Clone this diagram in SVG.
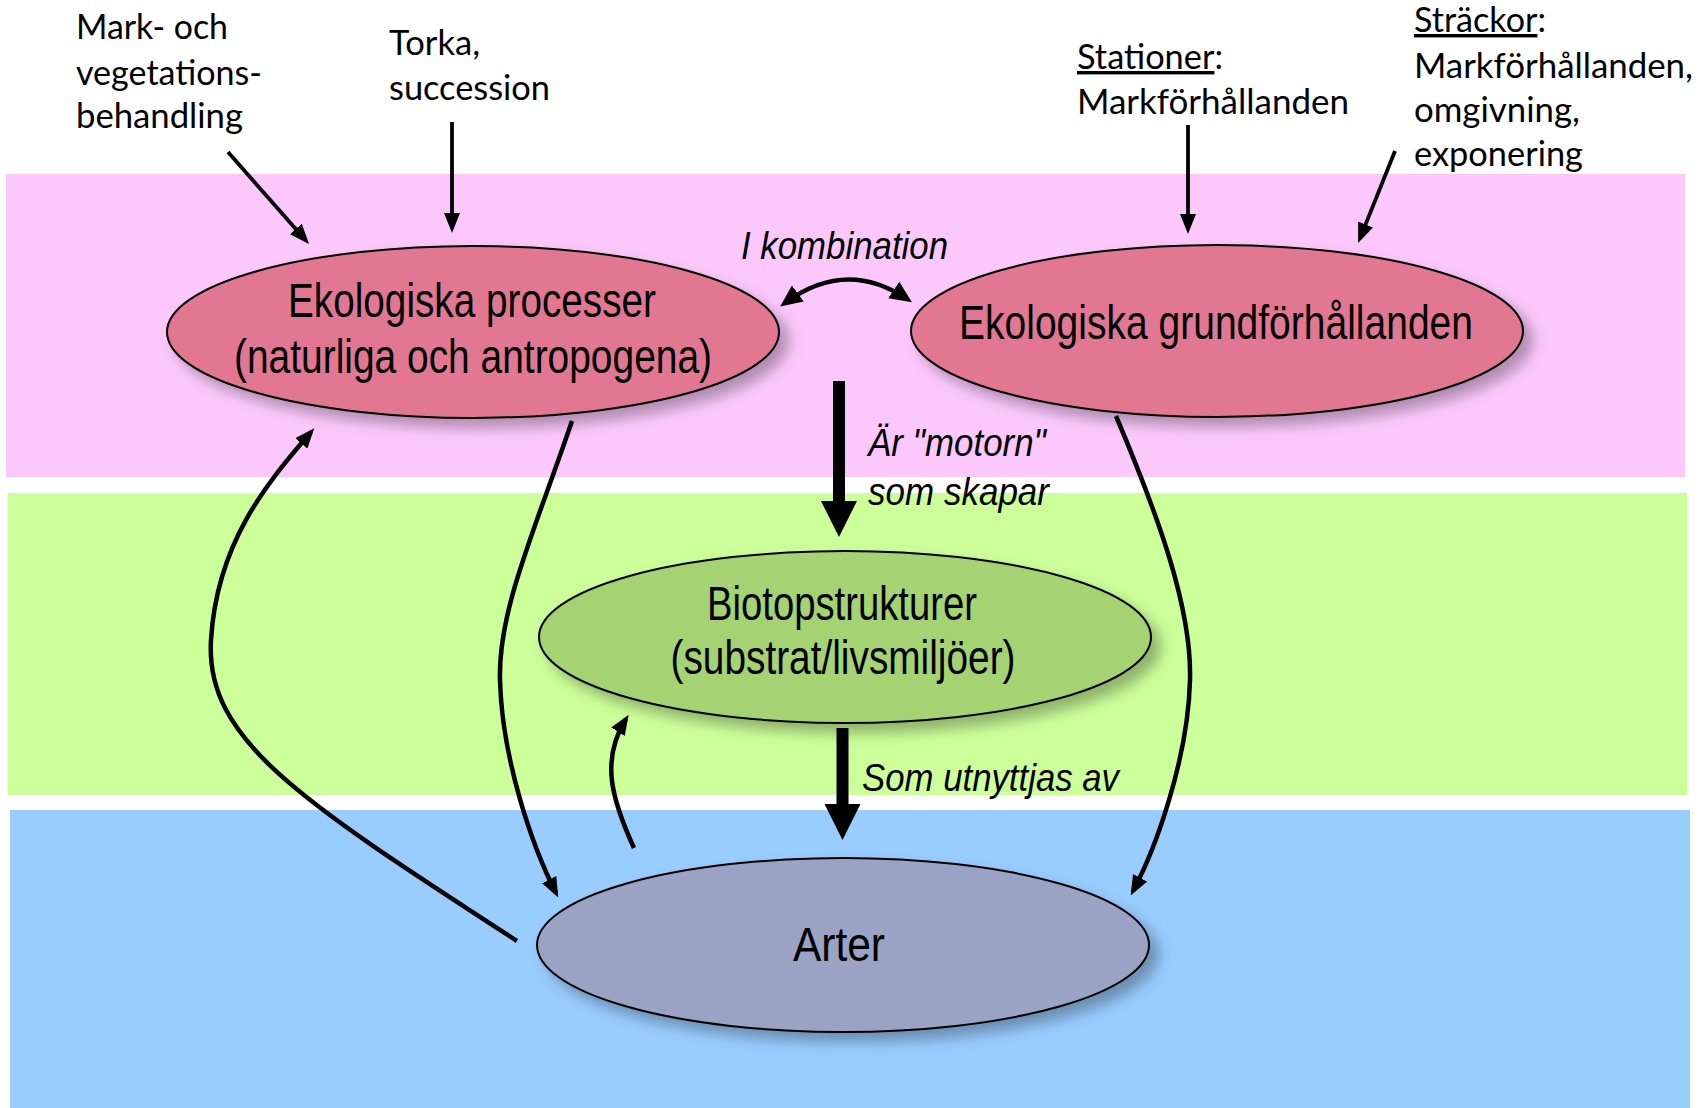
<svg xmlns="http://www.w3.org/2000/svg" width="1700" height="1108" viewBox="0 0 1700 1108">
<style>
.node{stroke:#000;stroke-width:2}
.ntext{font-family:"Liberation Sans",Arial,sans-serif;font-size:48px;fill:#000;text-anchor:middle}
.lbl{font-family:Lato,"Open Sans","Liberation Sans",sans-serif;font-size:34px;fill:#000}
.ital{font-family:"Liberation Sans",Arial,sans-serif;font-style:italic;font-size:39px;fill:#000}
.thin{fill:none;stroke:#000;stroke-width:3.8}
.curve{fill:none;stroke:#000;stroke-width:4.5}
.thick{fill:none;stroke:#000;stroke-width:12}
</style>
<defs>
<filter id="sh" x="-10%" y="-20%" width="130%" height="150%">
<feDropShadow dx="9" dy="9" stdDeviation="7" flood-color="#000" flood-opacity="0.3"/>
</filter>
<marker id="head" viewBox="0 0 20 16" refX="15" refY="8" markerWidth="20" markerHeight="16" markerUnits="userSpaceOnUse" orient="auto">
<path d="M0,0 L20,8 L0,16 z" fill="#000"/>
</marker>
<marker id="head2" viewBox="0 0 22 20" refX="16" refY="10" markerWidth="22" markerHeight="20" markerUnits="userSpaceOnUse" orient="auto-start-reverse">
<path d="M0,0 L22,10 L0,20 z" fill="#000"/>
</marker>
<marker id="big" viewBox="0 0 36 36" refX="2" refY="18" markerWidth="36" markerHeight="36" markerUnits="userSpaceOnUse" orient="auto">
<path d="M0,0 L36,18 L0,36 z" fill="#000"/>
</marker>
</defs>

<rect x="6" y="174" width="1679" height="303" fill="#FCC8FC"/>
<rect x="8" y="493" width="1679" height="302" fill="#CCFF99"/>
<rect x="10" y="810" width="1680" height="298" fill="#99CCFF"/>

<g id="node-processer">
<ellipse class="node" cx="473" cy="332" rx="306" ry="86" fill="#E27792" filter="url(#sh)"/>
<text class="ntext" x="472" y="317" textLength="368" lengthAdjust="spacingAndGlyphs">Ekologiska processer</text>
<text class="ntext" x="473" y="373" textLength="478" lengthAdjust="spacingAndGlyphs">(naturliga och antropogena)</text>
</g>
<g id="node-grund">
<ellipse class="node" cx="1217" cy="331" rx="306" ry="86" fill="#E27792" filter="url(#sh)"/>
<text class="ntext" x="1216" y="339" textLength="514" lengthAdjust="spacingAndGlyphs">Ekologiska grundförhållanden</text>
</g>
<g id="node-biotop">
<ellipse class="node" cx="845" cy="637" rx="306" ry="86" fill="#A5D373" filter="url(#sh)"/>
<text class="ntext" x="842" y="620" textLength="270" lengthAdjust="spacingAndGlyphs">Biotopstrukturer</text>
<text class="ntext" x="843" y="674" textLength="345" lengthAdjust="spacingAndGlyphs">(substrat/livsmiljöer)</text>
</g>
<g id="node-arter">
<ellipse class="node" cx="843" cy="945" rx="306" ry="87" fill="#9AA3C3" filter="url(#sh)"/>
<text class="ntext" x="839" y="961" textLength="92" lengthAdjust="spacingAndGlyphs">Arter</text>
</g>

<g id="labels">
<text class="lbl" x="76" y="39" textLength="152" lengthAdjust="spacingAndGlyphs">Mark- och</text>
<text class="lbl" x="76" y="85" textLength="186" lengthAdjust="spacingAndGlyphs">vegetations-</text>
<text class="lbl" x="76" y="128" textLength="167" lengthAdjust="spacingAndGlyphs">behandling</text>
<text class="lbl" x="389" y="55" textLength="91" lengthAdjust="spacingAndGlyphs">Torka,</text>
<text class="lbl" x="389" y="100" textLength="161" lengthAdjust="spacingAndGlyphs">succession</text>
<text class="lbl" x="1077" y="69" textLength="146" lengthAdjust="spacingAndGlyphs"><tspan text-decoration="underline">Stationer</tspan>:</text>
<text class="lbl" x="1077" y="114" textLength="272" lengthAdjust="spacingAndGlyphs">Markförhållanden</text>
<text class="lbl" x="1414" y="32" textLength="132" lengthAdjust="spacingAndGlyphs"><tspan text-decoration="underline">Sträckor</tspan>:</text>
<text class="lbl" x="1414" y="78" textLength="279" lengthAdjust="spacingAndGlyphs">Markförhållanden,</text>
<text class="lbl" x="1414" y="122" textLength="166" lengthAdjust="spacingAndGlyphs">omgivning,</text>
<text class="lbl" x="1414" y="166" textLength="169" lengthAdjust="spacingAndGlyphs">exponering</text>
<text class="ital" x="741" y="259" textLength="207" lengthAdjust="spacingAndGlyphs">I kombination</text>
<text class="ital" x="868" y="456" textLength="178" lengthAdjust="spacingAndGlyphs">Är "motorn"</text>
<text class="ital" x="868" y="505" textLength="181" lengthAdjust="spacingAndGlyphs">som skapar</text>
<text class="ital" x="862" y="791" textLength="257" lengthAdjust="spacingAndGlyphs">Som utnyttjas av</text>
</g>

<g id="connectors">
<path class="thin" d="M228,152 L305.7,240.2" marker-end="url(#head)"/>
<path class="thin" d="M452,122 L452,228" marker-end="url(#head)"/>
<path class="thin" d="M1188,125 L1188,229" marker-end="url(#head)"/>
<path class="thin" d="M1395,151 L1360,238.4" marker-end="url(#head)"/>
<path class="curve" d="M785,303 Q846,258 907,299" marker-start="url(#head2)" marker-end="url(#head2)"/>
<path class="thick" d="M839,381 L839,503" marker-end="url(#big)"/>
<path class="thick" d="M842.5,728 L842.5,806" marker-end="url(#big)"/>
<path class="curve" d="M517,941 C300,800 205,740 211,640 C217,540 270,480 311,432" marker-end="url(#head)"/>
<path class="curve" d="M572,421 C535,530 498,610 500,680 C502,760 533,848 556,893" marker-end="url(#head)"/>
<path class="curve" d="M1116,416 C1160,520 1192,610 1190,680 C1188,760 1155,850 1133,891" marker-end="url(#head)"/>
<path class="curve" d="M634,848 C612,800 600,760 626,719" marker-end="url(#head)"/>
</g>
</svg>
